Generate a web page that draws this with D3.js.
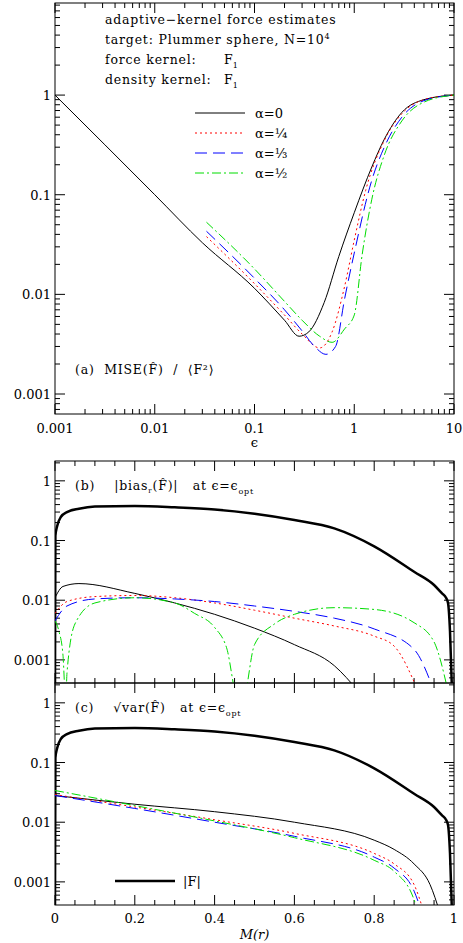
<!DOCTYPE html>
<html><head><meta charset="utf-8">
<script src="https://cdn.jsdelivr.net/npm/d3@7"></script>
<style>body{margin:0;background:#fff}svg text{font-family:"DejaVu Serif",serif;fill:#000}</style>
</head><body><div id="chart"></div>
<script>
// panel (a): MISE vs epsilon
var epsBlack = [0.001, 0.01, 0.03, 0.1, 0.2, 0.28, 0.35, 0.5, 0.7, 1, 1.5, 2, 3, 5, 10];
var miseBlack = [1, 0.1, 0.033, 0.0115, 0.0055, 0.0038, 0.0042, 0.0083, 0.024, 0.066, 0.19, 0.36, 0.67, 0.9, 1];
var epsRed = [0.033, 0.1, 0.2, 0.3, 0.45, 0.6, 0.8, 1, 1.3, 2, 3, 5, 10];
var miseRed = [0.038, 0.0128, 0.0062, 0.004, 0.0029, 0.0042, 0.012, 0.035, 0.11, 0.35, 0.65, 0.9, 1];
var epsBlue = [0.033, 0.1, 0.2, 0.3, 0.4, 0.52, 0.65, 0.8, 1, 1.5, 2, 3, 5, 10];
var miseBlue = [0.043, 0.0145, 0.007, 0.0043, 0.003, 0.0025, 0.003, 0.009, 0.026, 0.14, 0.3, 0.6, 0.88, 1];
var epsGreen = [0.033, 0.1, 0.2, 0.3, 0.45, 0.6, 0.8, 1, 1.2, 1.5, 2, 3, 5, 10];
var miseGreen = [0.053, 0.018, 0.0085, 0.0055, 0.0038, 0.0033, 0.0045, 0.0062, 0.025, 0.09, 0.25, 0.55, 0.85, 1];

// panels (b),(c): functions of M(r)
var mAbsF = [0, 0.001, 0.005, 0.015, 0.03, 0.06, 0.1, 0.2, 0.3, 0.4, 0.5, 0.6, 0.7, 0.8, 0.9, 0.95, 0.97, 0.98, 0.985, 0.99, 0.995];
var absF = [0.0004, 0.12, 0.17, 0.25, 0.3, 0.34, 0.37, 0.38, 0.36, 0.33, 0.28, 0.22, 0.16, 0.08, 0.03, 0.018, 0.013, 0.011, 0.009, 0.003, 0.0003];

var mBiasBlack = [0, 0.02, 0.06, 0.2, 0.3, 0.4, 0.5, 0.6, 0.7, 0.76];
var biasBlack = [0.011, 0.017, 0.019, 0.013, 0.009, 0.0058, 0.0034, 0.0018, 0.0008, 0.0003];
var mBiasRed = [0, 0.03, 0.1, 0.2, 0.3, 0.4, 0.5, 0.6, 0.7, 0.8, 0.85, 0.91];
var biasRed = [0.006, 0.0095, 0.0115, 0.012, 0.011, 0.009, 0.0068, 0.005, 0.0037, 0.0025, 0.0017, 0.0003];
var mBiasBlue = [0, 0.03, 0.1, 0.2, 0.3, 0.4, 0.5, 0.6, 0.7, 0.8, 0.9, 0.95];
var biasBlue = [0.0045, 0.008, 0.0105, 0.011, 0.0105, 0.0095, 0.008, 0.0065, 0.005, 0.0033, 0.0015, 0.0003];
var mBiasGreen = [0, 0.01, 0.02, 0.027, 0.03, 0.05, 0.1, 0.2, 0.3, 0.35, 0.4, 0.43, 0.46, 0.47, 0.5, 0.55, 0.6, 0.7, 0.8, 0.9, 0.95, 0.985];
var biasGreen = [0.0045, 0.003, 0.0012, 0.0002, 0.0006, 0.004, 0.009, 0.011, 0.009, 0.006, 0.0035, 0.0016, 0.0002, 0.0002, 0.0018, 0.004, 0.0058, 0.0075, 0.007, 0.0042, 0.002, 0.0003];

var mVarBlack = [0, 0.2, 0.4, 0.6, 0.8, 0.85, 0.9, 0.94, 0.965];
var varBlack = [0.028, 0.02, 0.015, 0.01, 0.005, 0.0035, 0.002, 0.0009, 0.0003];
var mVarRed = [0, 0.2, 0.4, 0.6, 0.8, 0.85, 0.9, 0.925];
var varRed = [0.029, 0.018, 0.011, 0.0065, 0.003, 0.002, 0.0009, 0.0003];
var mVarBlue = [0, 0.2, 0.4, 0.6, 0.8, 0.85, 0.9, 0.92];
var varBlue = [0.028, 0.017, 0.01, 0.0058, 0.0026, 0.0017, 0.0007, 0.0003];
var mVarGreen = [0, 0.2, 0.4, 0.6, 0.8, 0.85, 0.9, 0.91];
var varGreen = [0.034, 0.019, 0.0105, 0.0055, 0.0023, 0.0015, 0.0005, 0.0003];

var logTickVals = [0.001, 0.01, 0.1, 1, 10];
var logTickText = ["0.001", "0.01", "0.1", "1", "10"];
var linTickVals = [0, 0.2, 0.4, 0.6, 0.8, 1];
var linTickText = ["0", "0.2", "0.4", "0.6", "0.8", "1"];

var styles = {
  black: {c: "#000", d: null},
  red: {c: "#ff0000", d: "2,3"},
  blue: {c: "#0000ff", d: "12,6"},
  green: {c: "#00dd00", d: "9,3,2,3"}
};

var W = 463, H = 943, L = 55, R = 454;
var svg = d3.select("#chart").append("svg").attr("width", W).attr("height", H);

function zip(xs, ys) { return xs.map(function (x, i) { return [x, ys[i]]; }); }

function minorLogs(lo, hi) {
  var out = [];
  for (var e = -5; e <= 2; e++) for (var k = 1; k < 10; k++) {
    var v = k * Math.pow(10, e);
    if (v >= lo && v <= hi) out.push(v);
  }
  return out;
}

function panel(id, top, bottom, x, y, xlog) {
  var g = svg.append("g");
  g.append("clipPath").attr("id", id).append("rect")
    .attr("x", L).attr("y", top).attr("width", R - L).attr("height", bottom - top);
  g.append("rect").attr("x", L).attr("y", top).attr("width", R - L).attr("height", bottom - top)
    .attr("fill", "none").attr("stroke", "#000").attr("stroke-width", 1);
  var yd = y.domain();
  minorLogs(yd[0], yd[1]).forEach(function (v) {
    var major = Math.abs(Math.log10(v) - Math.round(Math.log10(v))) < 1e-9;
    var len = major ? 10 : 5;
    g.append("line").attr("x1", L).attr("x2", L + len).attr("y1", y(v)).attr("y2", y(v)).attr("stroke", "#000");
    g.append("line").attr("x1", R).attr("x2", R - len).attr("y1", y(v)).attr("y2", y(v)).attr("stroke", "#000");
  });
  var xticks = xlog ? minorLogs(x.domain()[0], x.domain()[1])
    : d3.range(0, 1.0001, 0.05);
  xticks.forEach(function (v) {
    var major = xlog ? Math.abs(Math.log10(v) - Math.round(Math.log10(v))) < 1e-9
      : Math.abs(v * 5 - Math.round(v * 5)) < 1e-9;
    var len = major ? 10 : 5;
    g.append("line").attr("x1", x(v)).attr("x2", x(v)).attr("y1", bottom).attr("y2", bottom - len).attr("stroke", "#000");
    g.append("line").attr("x1", x(v)).attr("x2", x(v)).attr("y1", top).attr("y2", top + len).attr("stroke", "#000");
  });
  logTickVals.forEach(function (v, i) {
    if (v < yd[0] || v > yd[1]) return;
    g.append("text").attr("x", L - 4).attr("y", y(v) + 5).attr("text-anchor", "end")
      .attr("font-size", 13).text(logTickText[i]);
  });
  return g.append("g").attr("clip-path", "url(#" + id + ")");
}

function curve(g, x, y, pts, st, w) {
  g.append("path").datum(pts)
    .attr("d", d3.line().x(function (d) { return x(d[0]); }).y(function (d) { return y(d[1]); }).curve(d3.curveMonotoneX))
    .attr("fill", "none").attr("stroke", st.c).attr("stroke-width", w || 1)
    .attr("stroke-dasharray", st.d);
}

// ---- panel a
var xa = d3.scaleLog().domain([0.001, 10]).range([L, R]);
var ya = d3.scaleLog().domain([0.00063, 8.4]).range([414, 3]);
var ga = panel("ca", 3, 414, xa, ya, true);
curve(ga, xa, ya, zip(epsBlack, miseBlack), styles.black);
curve(ga, xa, ya, zip(epsRed, miseRed), styles.red);
curve(ga, xa, ya, zip(epsBlue, miseBlue), styles.blue);
curve(ga, xa, ya, zip(epsGreen, miseGreen), styles.green);
logTickVals.forEach(function (v, i) {
  svg.append("text").attr("x", xa(v)).attr("y", 433).attr("text-anchor", "middle").attr("font-size", 13).text(logTickText[i]);
});
svg.append("text").attr("x", xa(0.1)).attr("y", 447).attr("text-anchor", "middle").attr("font-size", 13).text("ϵ");

var info = ["adaptive\u2212kernel force estimates", "target: Plummer sphere, N=10", "force kernel:", "density kernel:"];
info.forEach(function (t, i) {
  var tx = svg.append("text").attr("x", 105).attr("y", 24 + i * 20).attr("font-size", 12.5)
    .attr("letter-spacing", 0.8).text(t);
  if (i === 1) tx.append("tspan").attr("font-size", 8).attr("dy", -5).text("4");
  if (i >= 2) {
    var f = svg.append("text").attr("x", 224).attr("y", 24 + i * 20).attr("font-size", 12.5).text("F");
    f.append("tspan").attr("font-size", 8).attr("dy", 4).text("1");
  }
});
var legend = [["black", "α=0"], ["red", "α=¼"], ["blue", "α=⅓"], ["green", "α=½"]];
legend.forEach(function (l, i) {
  var ly = 113 + i * 20;
  svg.append("line").attr("x1", 195).attr("x2", 245).attr("y1", ly).attr("y2", ly)
    .attr("stroke", styles[l[0]].c).attr("stroke-dasharray", styles[l[0]].d);
  svg.append("text").attr("x", 255).attr("y", ly + 5).attr("font-size", 13).text(l[1]);
});
svg.append("text").attr("x", 75).attr("y", 374).attr("font-size", 12.5).attr("letter-spacing", 0.8)
  .attr("xml:space", "preserve").text("(a)  MISE(F\u0302)  /  \u27E8F\u00B2\u27E9");

// ---- panels b, c
var xm = d3.scaleLinear().domain([0, 1]).range([L, R]);
var yb = d3.scaleLog().domain([0.00041, 2.15]).range([683, 461]);
var gb = panel("cb", 461, 683, xm, yb, false);
curve(gb, xm, yb, zip(mAbsF, absF), styles.black, 2.5);
curve(gb, xm, yb, zip(mBiasBlack, biasBlack), styles.black);
curve(gb, xm, yb, zip(mBiasRed, biasRed), styles.red);
curve(gb, xm, yb, zip(mBiasBlue, biasBlue), styles.blue);
curve(gb, xm, yb, zip(mBiasGreen, biasGreen), styles.green);
var tb = svg.append("text").attr("x", 75).attr("y", 490).attr("font-size", 12.5).attr("letter-spacing", 0.8)
  .attr("xml:space", "preserve").text("(b)    |bias");
tb.append("tspan").attr("font-size", 7).attr("dy", 3).text("r");
tb.append("tspan").attr("dy", -3).text("(F\u0302)|   at ϵ=ϵ");
tb.append("tspan").attr("font-size", 8).attr("dy", 4).text("opt");

var yc = d3.scaleLog().domain([0.00041, 2.15]).range([905, 683]);
var gc = panel("cc", 683, 905, xm, yc, false);
curve(gc, xm, yc, zip(mAbsF, absF), styles.black, 2.5);
curve(gc, xm, yc, zip(mVarBlack, varBlack), styles.black);
curve(gc, xm, yc, zip(mVarRed, varRed), styles.red);
curve(gc, xm, yc, zip(mVarBlue, varBlue), styles.blue);
curve(gc, xm, yc, zip(mVarGreen, varGreen), styles.green);
var tc = svg.append("text").attr("x", 75).attr("y", 712).attr("font-size", 12.5).attr("letter-spacing", 0.8)
  .attr("xml:space", "preserve").text("(c)    \u221Avar(F\u0302)   at ϵ=ϵ");
tc.append("tspan").attr("font-size", 8).attr("dy", 4).text("opt");
svg.append("line").attr("x1", 115).attr("x2", 175).attr("y1", 881).attr("y2", 881).attr("stroke", "#000").attr("stroke-width", 2.5);
svg.append("text").attr("x", 183).attr("y", 886).attr("font-size", 13).text("|F|");

linTickVals.forEach(function (v, i) {
  svg.append("text").attr("x", xm(v)).attr("y", 923).attr("text-anchor", "middle").attr("font-size", 13).text(linTickText[i]);
});
svg.append("text").attr("x", xm(0.5)).attr("y", 939).attr("text-anchor", "middle").attr("font-size", 13)
  .attr("font-style", "italic").text("M(r)");
</script></body></html>
